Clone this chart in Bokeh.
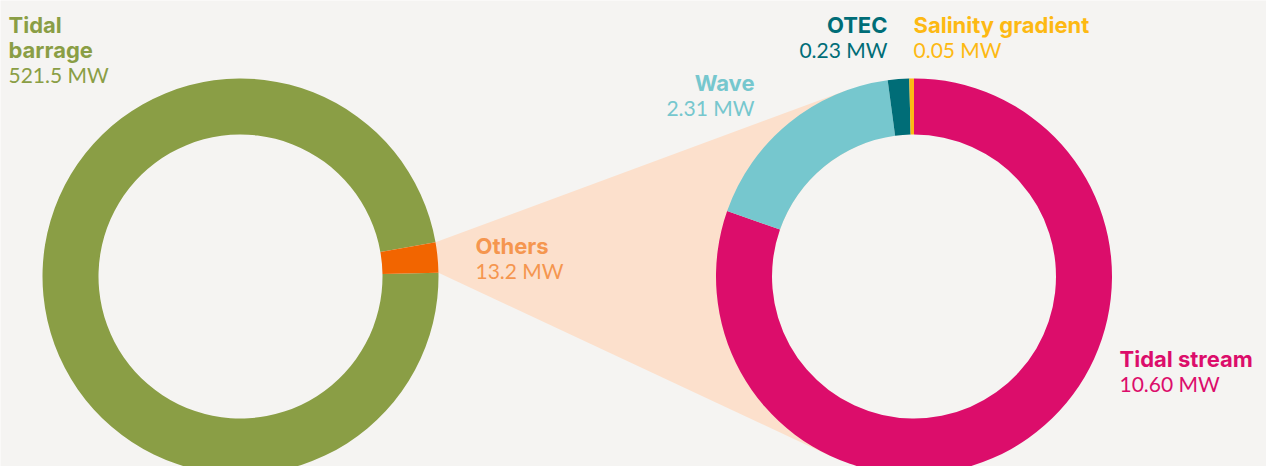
import numpy as np
from bokeh.plotting import figure
from bokeh.models import Range1d, ColumnDataSource
from bokeh.core.properties import value
from bokeh.embed import file_html
from bokeh.resources import INLINE

# ---------------- data ----------------
left_names = ["Tidal barrage", "Others"]
left_values = [521.5, 13.2]
left_colors = ["#8a9e45", "#f26500"]

right_names = ["Tidal stream", "Wave", "OTEC", "Salinity gradient"]
right_values = [10.60, 2.31, 0.23, 0.05]
right_colors = ["#dc0d6b", "#76c7ce", "#006d77", "#fdb913"]

BG = "#f5f4f2"
CONE = "#fce0cc"
OTHERS_LABEL = "#f5964f"

# ---------------- layout (screen px -> data) ----------------
W, H = 1266, 466
def sy(y):  # screen y -> data y
    return H - y

L_C = (240, sy(276))
R_C = (913.5, sy(276))
R_OUT, R_IN = 198, 142
OTHERS_CENTER_DEG = 84.5   # clock angle (from top, clockwise) of the Others slice

p = figure(width=W, height=H, x_range=Range1d(0, W), y_range=Range1d(0, H),
           output_backend="svg", toolbar_location=None, min_border=0,
           x_axis_type=None, y_axis_type=None)
p.grid.visible = False
p.outline_line_color = None
p.background_fill_color = BG
p.border_fill_color = BG

def to_bokeh(t_deg):
    return np.deg2rad(90 - t_deg)

# left donut angles (clock degrees from top)
lv = np.array(left_values)
lspan = lv / lv.sum() * 360
o_start = OTHERS_CENTER_DEG - lspan[1] / 2
o_end = OTHERS_CENTER_DEG + lspan[1] / 2
l_starts = [o_end, o_start]
l_ends = [o_start + 360, o_end]

# cone from the Others slice to the right donut
def pt(c, r, t_deg):
    a = to_bokeh(t_deg)
    return np.array([c[0] + r * np.cos(a), c[1] + r * np.sin(a)])

P1 = pt(L_C, R_OUT, o_start)
P2 = pt(L_C, R_OUT, o_end)
C = np.array(R_C)
def tangent(P, sign):
    d = np.linalg.norm(C - P)
    phi = np.arctan2(C[1] - P[1], C[0] - P[0])
    alpha = np.arcsin(R_OUT / d)
    Lt = np.sqrt(d * d - R_OUT * R_OUT)
    a = phi + sign * alpha
    return P + Lt * np.array([np.cos(a), np.sin(a)])
T1 = tangent(P1, +1)
T2 = tangent(P2, -1)
poly = [P1, T1, C, T2, P2]
p.patch([q[0] for q in poly], [q[1] for q in poly], fill_color=CONE, line_color=None)

# left donut
p.annular_wedge(x=L_C[0], y=L_C[1], inner_radius=R_IN, outer_radius=R_OUT,
                start_angle=[to_bokeh(a) for a in l_starts],
                end_angle=[to_bokeh(a) for a in l_ends],
                direction="clock", fill_color=left_colors, line_color=None)

# right donut
rv = np.array(right_values)
rspan = rv / rv.sum() * 360
r_starts = np.concatenate([[0], np.cumsum(rspan)[:-1]])
r_ends = np.cumsum(rspan)
p.circle(x=[R_C[0]], y=[R_C[1]], radius=R_IN, fill_color=BG, line_color=None)
p.annular_wedge(x=R_C[0], y=R_C[1], inner_radius=R_IN, outer_radius=R_OUT,
                start_angle=[to_bokeh(a) for a in r_starts],
                end_angle=[to_bokeh(a) for a in r_ends],
                direction="clock", fill_color=right_colors, line_color=None)

# ---------------- labels ----------------
label_pos = {
    "Tidal barrage": (8, 24, "left", ["Tidal", "barrage"]),
    "Others": (475, 245, "left", ["Others"]),
    "Tidal stream": (1119, 358, "left", ["Tidal stream"]),
    "Wave": (754, 82, "right", ["Wave"]),
    "OTEC": (887, 24, "right", ["OTEC"]),
    "Salinity gradient": (913, 24, "left", ["Salinity gradient"]),
}
LINE = 25
bold = dict(x=[], y=[], t=[], c=[], a=[])
reg = dict(x=[], y=[], t=[], c=[], a=[])
def add(names, values, colors, fmt):
    for n, v, col in zip(names, values, colors):
        x, y, al, lines = label_pos[n]
        col = OTHERS_LABEL if n == "Others" else col
        for i, ln in enumerate(lines):
            bold["x"].append(x); bold["y"].append(sy(y + i * LINE))
            bold["t"].append(ln); bold["c"].append(col); bold["a"].append(al)
        reg["x"].append(x); reg["y"].append(sy(y + len(lines) * LINE))
        reg["t"].append(fmt.format(v) + " MW"); reg["c"].append(col); reg["a"].append(al)
add(left_names, left_values, left_colors, "{:.1f}")
add(right_names, right_values, right_colors, "{:.2f}")

p.text(x="x", y="y", text="t", text_color="c", text_align="a", source=ColumnDataSource(bold),
       text_font=value("Inter"), text_font_style="bold", text_font_size="22px",
       text_baseline="alphabetic")
p.text(x="x", y="y", text="t", text_color="c", text_align="a", source=ColumnDataSource(reg),
       text_font=value("Lato"), text_font_size="21px", text_baseline="alphabetic")

open("out.html", "w").write(file_html(p, INLINE))
